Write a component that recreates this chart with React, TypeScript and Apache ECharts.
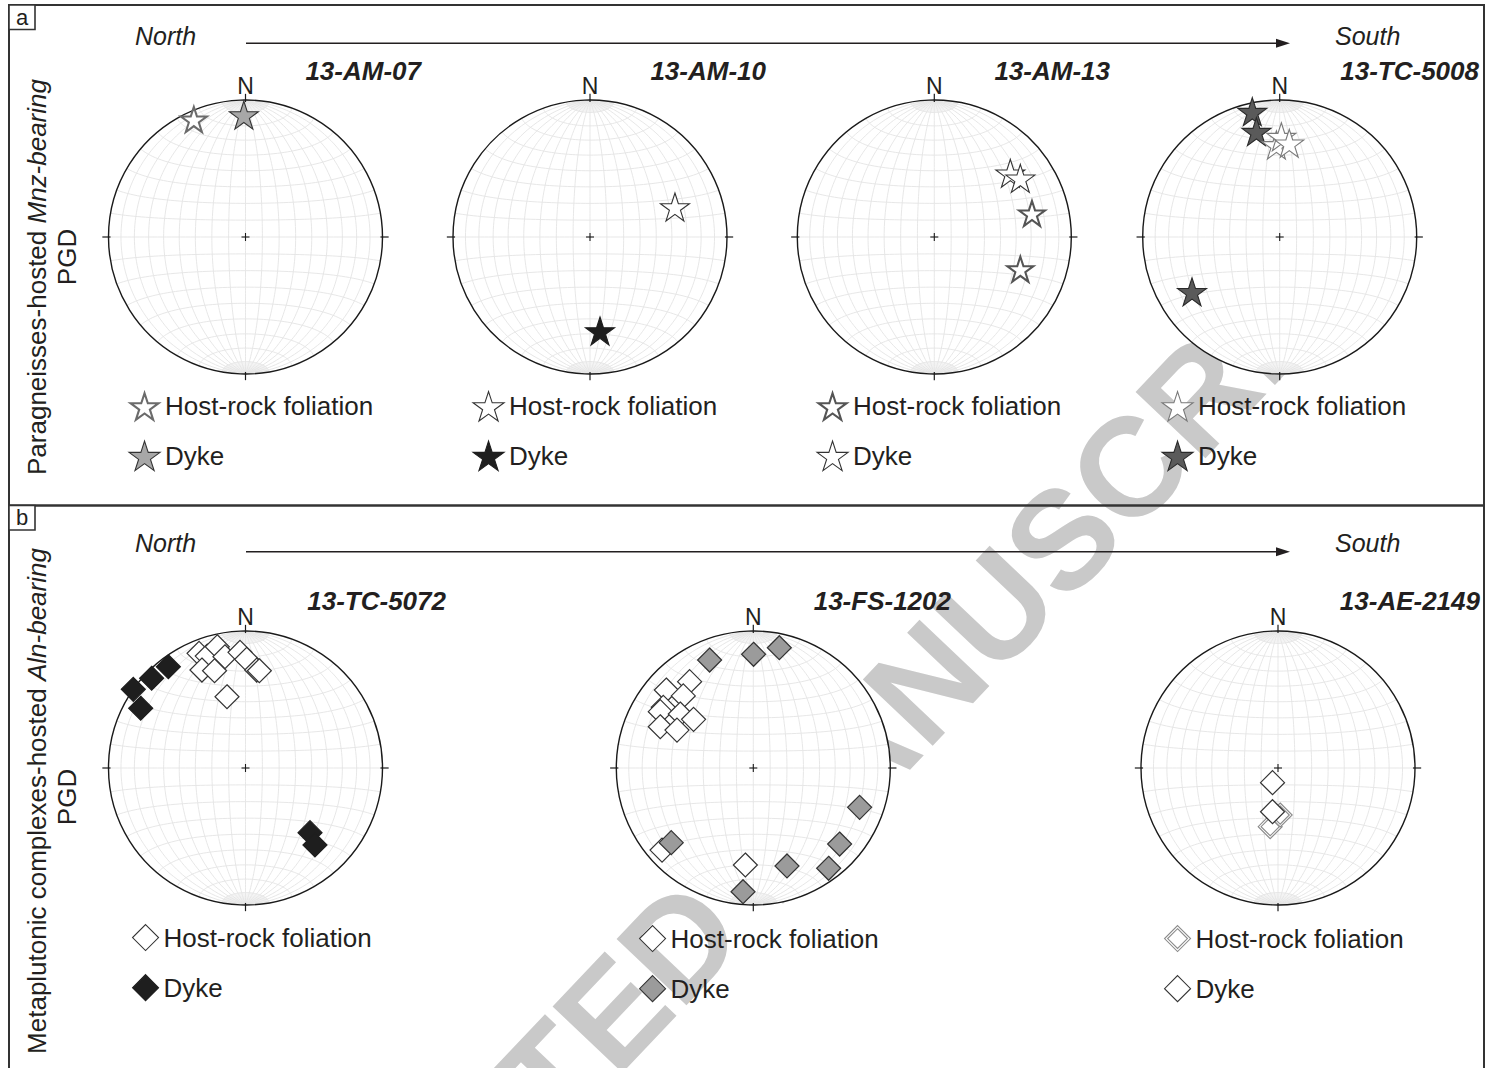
import React, { useEffect, useRef } from 'react';
import * as echarts from 'echarts';

const FONT = '"Liberation Sans", Arial, Helvetica, sans-serif';
const INK = '#231f20';

// ---- data: pole positions in net coordinates (x east, y north, unit radius) ----
const am07Host = [[-0.377, 0.859]];
const am07Dyke = [[-0.012, 0.89]];
const am10Host = [[0.62, 0.219]];
const am10Dyke = [[0.073, -0.686]];
const am13Host = [[0.713, 0.173], [0.628, -0.234]];
const am13Dyke = [[0.555, 0.465], [0.628, 0.428]];
const tc5008Dyke = [[-0.2, 0.915], [-0.17, 0.769], [-0.64, -0.4]];
const tc5008Host = [[-0.024, 0.672], [0.012, 0.732], [0.07, 0.684]];
const tc5072Host = [
  [-0.339, 0.837], [-0.279, 0.817], [-0.206, 0.885], [-0.15, 0.812], [-0.04, 0.844],
  [0.009, 0.793], [-0.318, 0.715], [-0.226, 0.71], [0.082, 0.715], [0.101, 0.71], [-0.135, 0.52],
];
const tc5072Dyke = [[-0.563, 0.739], [-0.685, 0.655], [-0.819, 0.574], [-0.765, 0.436], [0.471, -0.472], [0.507, -0.562]];
const fs1202Host = [
  [-0.666, -0.599], [-0.058, -0.708], [-0.465, 0.63], [-0.635, 0.569], [-0.511, 0.526],
  [-0.657, 0.443], [-0.679, 0.411], [-0.533, 0.394], [-0.436, 0.355], [-0.679, 0.301], [-0.557, 0.277],
];
const fs1202Dyke = [
  [-0.319, 0.788], [0.002, 0.83], [0.19, 0.878], [0.776, -0.287], [0.63, -0.555],
  [0.55, -0.732], [0.246, -0.715], [-0.075, -0.903], [-0.599, -0.545],
];
const ae2149Host = [[-0.057, -0.428], [0.016, -0.343]];
const ae2149Dyke = [[-0.04, -0.107], [-0.04, -0.319]];

const sampleNames = ['13-AM-07', '13-AM-10', '13-AM-13', '13-TC-5008', '13-TC-5072', '13-FS-1202', '13-AE-2149'];
const legendLabels = ['Host-rock foliation', 'Dyke'];
const rowLabels = [
  { main: 'Paragneisses-hosted ', ital: 'Mnz-bearing', sub: 'PGD' },
  { main: 'Metaplutonic complexes-hosted ', ital: 'Aln-bearing', sub: 'PGD' },
];

// ---- symbols ----
function starPts(scale: number) {
  const pts: string[] = [];
  for (let k = 0; k < 10; k++) {
    const ang = (-90 + k * 36) * Math.PI / 180;
    const r = (k % 2 === 0 ? 50 : 19.1) * scale;
    pts.push(`${(50 + r * Math.cos(ang)).toFixed(2)} ${(50 + r * Math.sin(ang)).toFixed(2)}`);
  }
  return 'M' + pts.join(' L') + ' Z';
}
const STAR = 'path://' + starPts(1);
const STAR2 = 'path://' + starPts(1) + ' ' + starPts(0.8);
const DIAM = 'diamond';
const DIAM2 = 'path://M50 0 L100 50 L50 100 L0 50 Z M50 12 L88 50 L50 88 L12 50 Z';

// ---- stereonet (equal-area, lower hemisphere) grid geometry ----
function proj(x: number, y: number, z: number) {
  const k = 1 / Math.sqrt(1 + z);
  return [x * k, y * k];
}
function buildNetLines() {
  const d = Math.PI / 180;
  const main: number[][][] = [];
  const fan: number[][][] = [];
  for (let a = 10; a < 180; a += 10) {
    const pts: number[][] = [];
    for (let t = 0; t <= 180; t += 2) {
      pts.push(proj(Math.sin(t * d) * Math.cos(a * d), Math.cos(t * d), Math.sin(t * d) * Math.sin(a * d)));
    }
    main.push(pts);
  }
  for (let b = 10; b < 180; b += 10) {
    const pts: number[][] = [];
    for (let s = 0; s <= 180; s += 3) {
      pts.push(proj(Math.sin(b * d) * Math.cos(s * d), Math.cos(b * d), Math.sin(b * d) * Math.sin(s * d)));
    }
    main.push(pts);
  }
  for (let a = 2; a < 180; a += 2) {
    if (a % 10 === 0) continue;
    for (const [t0, t1] of [[0, 10], [170, 180]]) {
      const pts: number[][] = [];
      for (let t = t0; t <= t1; t += 2) {
        pts.push(proj(Math.sin(t * d) * Math.cos(a * d), Math.cos(t * d), Math.sin(t * d) * Math.sin(a * d)));
      }
      fan.push(pts);
    }
  }
  return { main, fan };
}
const NET_LINES = buildNetLines();

const R = 137;
type NetDef = {
  cx: number; cy: number; titleRight: number; titleY: number; nY: number;
  legX: number; legY: number; host: number[][]; dyke: number[][];
  hostSym: string; dykeSym: string; size: number[]; legSize: number[];
  hostStyle: any; dykeStyle: any; hostOnTop?: boolean;
};

const NETS: NetDef[] = [
  { cx: 245.5, cy: 237, titleRight: 421, titleY: 71, nY: 86, legX: 144, legY: 406, host: am07Host, dyke: am07Dyke,
    hostSym: STAR2, dykeSym: STAR, size: [29, 28], legSize: [31, 30],
    hostStyle: { color: '#fff', borderColor: '#6b6b6b', borderWidth: 1.1, opacity: 1 },
    dykeStyle: { color: '#a7a7a7', borderColor: '#333', borderWidth: 1.1, opacity: 1 } },
  { cx: 590, cy: 237, titleRight: 766, titleY: 71, nY: 86, legX: 488, legY: 406, host: am10Host, dyke: am10Dyke,
    hostSym: STAR, dykeSym: STAR, size: [29, 28], legSize: [31, 30],
    hostStyle: { color: '#fff', borderColor: '#333', borderWidth: 1.1, opacity: 1 },
    dykeStyle: { color: '#1e1e1e', borderColor: '#1e1e1e', borderWidth: 1.1, opacity: 1 } },
  { cx: 934.3, cy: 237, titleRight: 1110, titleY: 71, nY: 86, legX: 832, legY: 406, host: am13Host, dyke: am13Dyke,
    hostSym: STAR2, dykeSym: STAR, size: [29, 28], legSize: [31, 30],
    hostStyle: { color: '#fff', borderColor: '#555', borderWidth: 1.1, opacity: 1 },
    dykeStyle: { color: '#fff', borderColor: '#333', borderWidth: 1.1, opacity: 1 } },
  { cx: 1279.7, cy: 237, titleRight: 1479, titleY: 71, nY: 86, legX: 1177, legY: 406, host: tc5008Host, dyke: tc5008Dyke,
    hostSym: STAR, dykeSym: STAR, size: [29, 28], legSize: [31, 30], hostOnTop: true,
    hostStyle: { color: '#fff', borderColor: '#7a7a7a', borderWidth: 1.1, opacity: 1 },
    dykeStyle: { color: '#5a5a5a', borderColor: '#2a2a2a', borderWidth: 1.1, opacity: 1 } },
  { cx: 245.5, cy: 768, titleRight: 446, titleY: 601, nY: 617, legX: 145, legY: 937, host: tc5072Host, dyke: tc5072Dyke,
    hostSym: DIAM, dykeSym: DIAM, size: [24, 24], legSize: [26, 26],
    hostStyle: { color: '#fff', borderColor: '#333', borderWidth: 1.2, opacity: 1 },
    dykeStyle: { color: '#1e1e1e', borderColor: '#1e1e1e', borderWidth: 1.2, opacity: 1 } },
  { cx: 753.3, cy: 768, titleRight: 951, titleY: 601, nY: 617, legX: 652, legY: 938, host: fs1202Host, dyke: fs1202Dyke,
    hostSym: DIAM, dykeSym: DIAM, size: [24, 24], legSize: [26, 26],
    hostStyle: { color: '#fff', borderColor: '#333', borderWidth: 1.2, opacity: 1 },
    dykeStyle: { color: '#9b9b9b', borderColor: '#333', borderWidth: 1.2, opacity: 1 } },
  { cx: 1278, cy: 768, titleRight: 1480, titleY: 601, nY: 617, legX: 1177, legY: 938, host: ae2149Host, dyke: ae2149Dyke,
    hostSym: DIAM2, dykeSym: DIAM, size: [24, 24], legSize: [26, 26],
    hostStyle: { color: '#fff', borderColor: '#8a8a8a', borderWidth: 1.1, opacity: 1 },
    dykeStyle: { color: '#fff', borderColor: '#333', borderWidth: 1.2, opacity: 1 } },
];

function netRenderItem(params: any, api: any) {
  const c = api.coord([0, 0]);
  const e = api.coord([1, 0]);
  const r = e[0] - c[0];
  const P = (x: number, y: number) => [c[0] + x * r, c[1] - y * r];
  const children: any[] = [];
  children.push({ type: 'circle', shape: { cx: c[0], cy: c[1], r }, style: { fill: '#fff', stroke: null }, silent: true });
  for (const ln of NET_LINES.fan) {
    children.push({
      type: 'polyline', silent: true,
      shape: { points: ln.map((p) => P(p[0], p[1])) },
      style: { fill: null, stroke: '#eeeeee', lineWidth: 0.6 },
    });
  }
  for (const ln of NET_LINES.main) {
    children.push({
      type: 'polyline', silent: true,
      shape: { points: ln.map((p) => P(p[0], p[1])) },
      style: { fill: null, stroke: '#e4e4e4', lineWidth: 0.9 },
    });
  }
  children.push({ type: 'circle', shape: { cx: c[0], cy: c[1], r }, style: { fill: null, stroke: '#1a1a1a', lineWidth: 1.4 }, silent: true });
  const tick = (x0: number, y0: number, x1: number, y1: number) => {
    const a = P(x0, y0), b = P(x1, y1);
    children.push({ type: 'line', silent: true, shape: { x1: a[0], y1: a[1], x2: b[0], y2: b[1] }, style: { stroke: '#1a1a1a', lineWidth: 1.2 } });
  };
  tick(0.985, 0, 1.045, 0);
  tick(-0.985, 0, -1.045, 0);
  tick(0, 0.985, 0, 1.045);
  tick(0, -0.985, 0, -1.045);
  children.push({ type: 'line', silent: true, shape: { x1: c[0] - 4, y1: c[1], x2: c[0] + 4, y2: c[1] }, style: { stroke: '#1a1a1a', lineWidth: 1.1 } });
  children.push({ type: 'line', silent: true, shape: { x1: c[0], y1: c[1] - 4, x2: c[0], y2: c[1] + 4 }, style: { stroke: '#1a1a1a', lineWidth: 1.1 } });
  return { type: 'group', children };
}

function txt(x: number, y: number, text: string, o: any = {}) {
  return {
    type: 'text', x, y, rotation: o.rotation || 0, z: o.z ?? 10, silent: true,
    style: {
      text, fill: o.fill || INK, fontFamily: FONT, fontSize: o.fontSize || 25,
      fontWeight: o.fontWeight || 'normal', fontStyle: o.fontStyle || 'normal',
      align: o.align || 'left', verticalAlign: o.verticalAlign || 'middle', rich: o.rich,
    },
  };
}

function buildOption() {
  const grids: any[] = [];
  const xAxes: any[] = [];
  const yAxes: any[] = [];
  const series: any[] = [];
  const legends: any[] = [];
  const graphics: any[] = [];

  NETS.forEach((n, i) => {
    grids.push({ left: n.cx - 1.1 * R, top: n.cy - 1.1 * R, width: 2.2 * R, height: 2.2 * R, containLabel: false });
    xAxes.push({ type: 'value', gridIndex: i, min: -1.1, max: 1.1, show: false });
    yAxes.push({ type: 'value', gridIndex: i, min: -1.1, max: 1.1, show: false });
    series.push({ type: 'custom', name: 'net' + i, xAxisIndex: i, yAxisIndex: i, data: [[0, 0]], renderItem: netRenderItem, clip: false, z: 1, silent: true });
    const hostName = `${i}|${legendLabels[0]}`;
    const dykeName = `${i}|${legendLabels[1]}`;
    const hostSeries = { type: 'scatter', name: hostName, xAxisIndex: i, yAxisIndex: i, data: n.host, symbol: n.hostSym, symbolSize: n.size, itemStyle: n.hostStyle, z: 3, clip: false, silent: true };
    const dykeSeries = { type: 'scatter', name: dykeName, xAxisIndex: i, yAxisIndex: i, data: n.dyke, symbol: n.dykeSym, symbolSize: n.size, itemStyle: n.dykeStyle, z: 3, clip: false, silent: true };
    if (n.hostOnTop) series.push(dykeSeries, hostSeries); else series.push(hostSeries, dykeSeries);
    const lh = n.legSize[1];
    legends.push({
      orient: 'vertical', left: n.legX - n.legSize[0] / 2, top: n.legY - lh / 2, padding: 0,
      itemWidth: n.legSize[0], itemHeight: lh, itemGap: 49 - lh, selectedMode: false,
      data: [hostName, dykeName],
      formatter: (name: string) => name.split('|')[1],
      itemStyle: { borderWidth: 1.1, opacity: 1 },
      textStyle: { fontSize: 26, color: INK, fontFamily: FONT, padding: [2, 0, 0, 0] },
    });
    graphics.push(txt(n.titleRight, n.titleY, sampleNames[i], { align: 'right', fontSize: 26, fontWeight: 'bold', fontStyle: 'italic' }));
    graphics.push(txt(n.cx, n.nY, 'N', { align: 'center', fontSize: 23 }));
  });

  // watermark
  graphics.push({
    type: 'text', x: 784, y: 832, rotation: 46.5 * Math.PI / 180, z: -10, silent: true,
    style: { text: 'ACCEPTED MANUSCRIPT', fill: '#c9c9c9', fontFamily: FONT, fontSize: 140, fontWeight: 'bold', align: 'center', verticalAlign: 'middle' },
  });

  // frames
  graphics.push({ type: 'rect', z: 10, silent: true, shape: { x: 9, y: 5, width: 1475, height: 1075 }, style: { fill: null, stroke: '#333', lineWidth: 2 } });
  graphics.push({ type: 'line', z: 10, silent: true, shape: { x1: 9, y1: 505.5, x2: 1484, y2: 505.5 }, style: { stroke: '#333', lineWidth: 2.4 } });
  [[5, 'a'], [505.5, 'b']].forEach(([y, l]: any) => {
    graphics.push({ type: 'rect', z: 10, silent: true, shape: { x: 9, y, width: 26, height: 24.5 }, style: { fill: '#fff', stroke: '#333', lineWidth: 1.6 } });
    graphics.push(txt(22, y + 12, l, { align: 'center', fontSize: 22 }));
  });

  // direction arrows
  [[35.5, 43.3], [543, 551.7]].forEach(([ty, ly]) => {
    graphics.push(txt(135, ty, 'North', { fontSize: 25, fontStyle: 'italic' }));
    graphics.push(txt(1335, ty, 'South', { fontSize: 25, fontStyle: 'italic' }));
    graphics.push({ type: 'line', z: 10, silent: true, shape: { x1: 246, y1: ly, x2: 1280, y2: ly }, style: { stroke: '#231f20', lineWidth: 1.5 } });
    graphics.push({ type: 'polygon', z: 10, silent: true, shape: { points: [[1290, ly], [1276, ly - 4.5], [1276, ly + 4.5]] }, style: { fill: '#231f20' } });
  });

  // row labels (rotated)
  [[277, 257], [801, 797]].forEach(([y1, y2], k) => {
    const rl = rowLabels[k];
    graphics.push(txt(37, y1, `{n|${rl.main}}{i|${rl.ital}}`, {
      rotation: Math.PI / 2, align: 'center', fontSize: 26,
      rich: { n: { fontSize: 26, fontFamily: FONT, fill: INK, color: INK }, i: { fontSize: 26, fontFamily: FONT, fontStyle: 'italic', fill: INK, color: INK } },
    }));
    graphics.push(txt(67, y2, rl.sub, { rotation: Math.PI / 2, align: 'center', fontSize: 26 }));
  });

  return {
    animation: false,
    backgroundColor: '#fff',
    grid: grids, xAxis: xAxes, yAxis: yAxes, series, legend: legends,
    graphic: { elements: graphics },
    tooltip: { show: false },
  };
}

export default function App() {
  const ref = useRef<HTMLDivElement>(null);
  useEffect(() => {
    document.body.style.margin = '0';
    if (!ref.current) return;
    const chart = echarts.init(ref.current, undefined, { renderer: 'svg' });
    chart.setOption(buildOption() as any);
    return () => chart.dispose();
  }, []);
  return <div ref={ref} style={{ width: 1487, height: 1068 }} />;
}
